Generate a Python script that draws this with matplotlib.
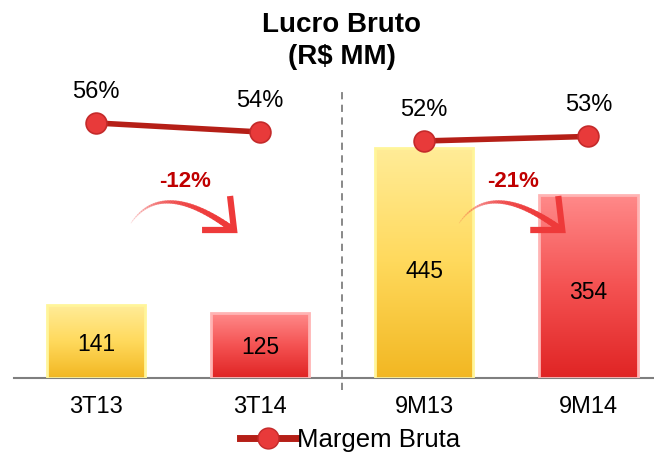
import numpy as np
import matplotlib.pyplot as plt
import matplotlib as mpl
from matplotlib.collections import LineCollection
from matplotlib.colors import LinearSegmentedColormap
from matplotlib.lines import Line2D

mpl.rc("font", family=["Liberation Sans", "DejaVu Sans"])

# ----- data -----
categories = ["3T13", "3T14", "9M13", "9M14"]
lucro = [141, 125, 445, 354]
margem = [56, 54, 52, 53]
variacao = ["-12%", "-21%"]

# ----- style -----
yellow_cmap = LinearSegmentedColormap.from_list("yel", ["#F2B722", "#FFD95C", "#FFEC98"])
red_cmap = LinearSegmentedColormap.from_list("red", ["#E02424", "#F45252", "#FF8A8A"])
bar_cmaps = [yellow_cmap, red_cmap, yellow_cmap, red_cmap]
edge_cols = ["#FFF59A", "#FFB4B4", "#FFF59A", "#FFB4B4"]
line_col = "#B51F17"
marker_face = "#E83A3A"
arrow_col = "#EE3A3A"

fig = plt.figure(figsize=(6.54, 4.55), dpi=100)
ax = fig.add_axes([14 / 654, 77 / 455, 640 / 654, 318 / 455])
x = np.arange(len(categories))

# bars with vertical gradient
bars = ax.bar(x, lucro, width=0.6, color="none", edgecolor="none", zorder=2)
grad = np.linspace(0, 1, 256).reshape(-1, 1)
for b, cmap, ec in zip(bars, bar_cmaps, edge_cols):
    x0, w, h = b.get_x(), b.get_width(), b.get_height()
    im = ax.imshow(grad, cmap=cmap, origin="lower", aspect="auto",
                   extent=[x0, x0 + w, 0, h], zorder=2)
    im.set_clip_path(b)
    ax.add_patch(plt.Rectangle((x0, 0), w, h, fill=False, edgecolor=ec,
                               linewidth=2, zorder=3))

for xi, v in zip(x, lucro):
    ax.text(xi, v * 0.465, str(v), ha="center", va="center",
            fontsize=16.5, color="black", zorder=4)

ax.set_xlim(-0.5, 3.4)
ax.set_ylim(0, 615)
ax.set_xticks(x)
ax.set_xticklabels(categories, fontsize=17)
ax.tick_params(axis="x", length=0, pad=13)
ax.set_yticks([])
for s in ["top", "right", "left"]:
    ax.spines[s].set_visible(False)
ax.spines["bottom"].set_color("#7F7F7F")
ax.spines["bottom"].set_linewidth(1.5)
ax.patch.set_alpha(0)

# separator
trans = mpl.transforms.blended_transform_factory(ax.transData, ax.transAxes)
ax.plot([1.5, 1.5], [-0.038, 0.912], transform=trans, color="#7F7F7F",
        linestyle=(0, (4, 3)), linewidth=1.3, clip_on=False, zorder=1)

# variation arrows (drawn in pixels, anchored on the first bar of each pair)
ident = mpl.transforms.IdentityTransform()
t = np.linspace(0, 1, 40)
for i, lab in enumerate(variacao):
    xs = x[2 * i]
    ox, oy = ax.transData.transform((xs, 0))
    p0 = np.array([ox + 35, oy + 155])
    p1 = np.array([ox + 66, oy + 200])
    p2 = np.array([ox + 136, oy + 149])
    pts = ((1 - t) ** 2)[:, None] * p0 + (2 * t * (1 - t))[:, None] * p1 + (t ** 2)[:, None] * p2
    segs = np.stack([pts[:-1], pts[1:]], axis=1)
    widths = np.linspace(0.6, 4.5, len(segs))
    alphas = np.linspace(0.15, 1.0, len(segs))
    cols = [mpl.colors.to_rgba(arrow_col, a) for a in alphas]
    lc = LineCollection(segs, linewidths=widths, colors=cols, transform=ident,
                        capstyle="round", zorder=4)
    ax.add_collection(lc)
    tip = p2 + np.array([2, -1])
    head = np.array([tip + [-4, 34], tip, tip + [-32, 0]])
    ax.add_line(Line2D(head[:, 0], head[:, 1], color=arrow_col, linewidth=4.5,
                       solid_joinstyle="miter", solid_capstyle="butt",
                       transform=ident, zorder=4))
    ax.text(xs + 0.54, 380, lab, ha="center", va="center", fontsize=16,
            fontweight="bold", color="#C00000", zorder=4)

# margin line on secondary axis
ax2 = ax.twinx()
ax2.set_ylim(-0.7, 70)
ax2.axis("off")
for seg in [slice(0, 2), slice(2, 4)]:
    ax2.plot(x[seg], margem[seg], color=line_col, linewidth=4, marker="o",
             markersize=15, markerfacecolor=marker_face, markeredgecolor="#C42A2A",
             markeredgewidth=1.2, zorder=5)
for xi, m in zip(x, margem):
    ax2.annotate(f"{m}%", (xi, m), xytext=(0, 31), textcoords="offset pixels",
                 ha="center", va="center", fontsize=17, color="black")

fig.text(342 / 654, 1 - 25 / 455, "Lucro Bruto", ha="center", va="center",
         fontsize=20, fontweight="bold")
fig.text(342 / 654, 1 - 57 / 455, "(R$ MM)", ha="center", va="center",
         fontsize=20, fontweight="bold")

handle = Line2D([], [], color=line_col, linewidth=5, marker="o", markersize=15,
                markerfacecolor=marker_face, markeredgecolor="#C42A2A")
fig.legend([handle], ["Margem Bruta"], loc="center", bbox_to_anchor=(350 / 654, 1 - 440 / 455),
           frameon=False, fontsize=18.5, handlelength=2.2, handletextpad=0.05,
           borderpad=0, borderaxespad=0)

fig.savefig("out.png", dpi=100)
